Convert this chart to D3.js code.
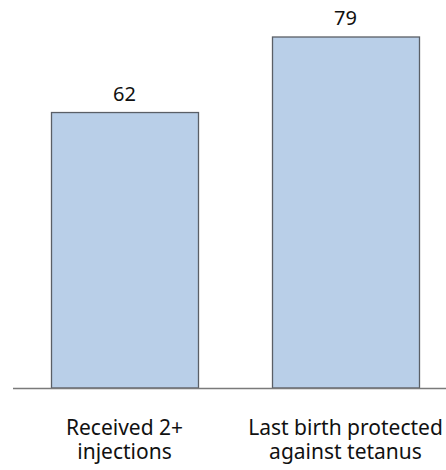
<!DOCTYPE html>
<html><head><meta charset="utf-8">
<script src="https://cdn.jsdelivr.net/npm/d3@7"></script>
<style>body{margin:0;background:#fff}svg{display:block}</style>
</head><body>
<svg id="c" width="446" height="470"></svg>
<script>
const categories = [["Received 2+","injections"],["Last birth protected","against tetanus"]];
const values = [62, 79];

const svg = d3.select("#c");
const baseY = 388, axisX0 = 13, axisX1 = 446;
const x = d3.scaleBand().domain(d3.range(values.length)).range([51, 419]).paddingInner(74/221).paddingOuter(0);
const y = d3.scaleLinear().domain([0, 79]).range([baseY, 37]);

svg.selectAll("rect.bar").data(values).join("rect")
  .attr("class","bar")
  .attr("x",(d,i)=>x(i)+0.5)
  .attr("y",d=>y(d))
  .attr("width",x.bandwidth())
  .attr("height",d=>baseY-y(d))
  .attr("fill","#b9cfe8").attr("stroke","#5a5f66").attr("stroke-width",1.3);

svg.append("line").attr("x1",axisX0).attr("x2",axisX1).attr("y1",baseY+0.5).attr("y2",baseY+0.5)
  .attr("stroke","#7a7a7a").attr("stroke-width",1.3);

svg.selectAll("text.val").data(values).join("text")
  .attr("class","val")
  .attr("x",(d,i)=>x(i)+x.bandwidth()/2)
  .attr("y",d=>y(d)-12)
  .attr("text-anchor","middle")
  .attr("font-family","Noto Sans, sans-serif").attr("font-size",20).attr("fill","#111")
  .text(d=>d);

const lines = categories.flatMap((c,i)=>c.map((t,j)=>({t,i,j})));
svg.selectAll("text.cat").data(lines).join("text")
  .attr("class","cat")
  .attr("text-anchor","middle")
  .attr("font-family","Noto Sans, sans-serif").attr("font-size",21).attr("fill","#111")
  .attr("x",d=>x(d.i)+x.bandwidth()/2)
  .attr("y",d=>434.5+d.j*24)
  .text(d=>d.t);
</script>
</body></html>
